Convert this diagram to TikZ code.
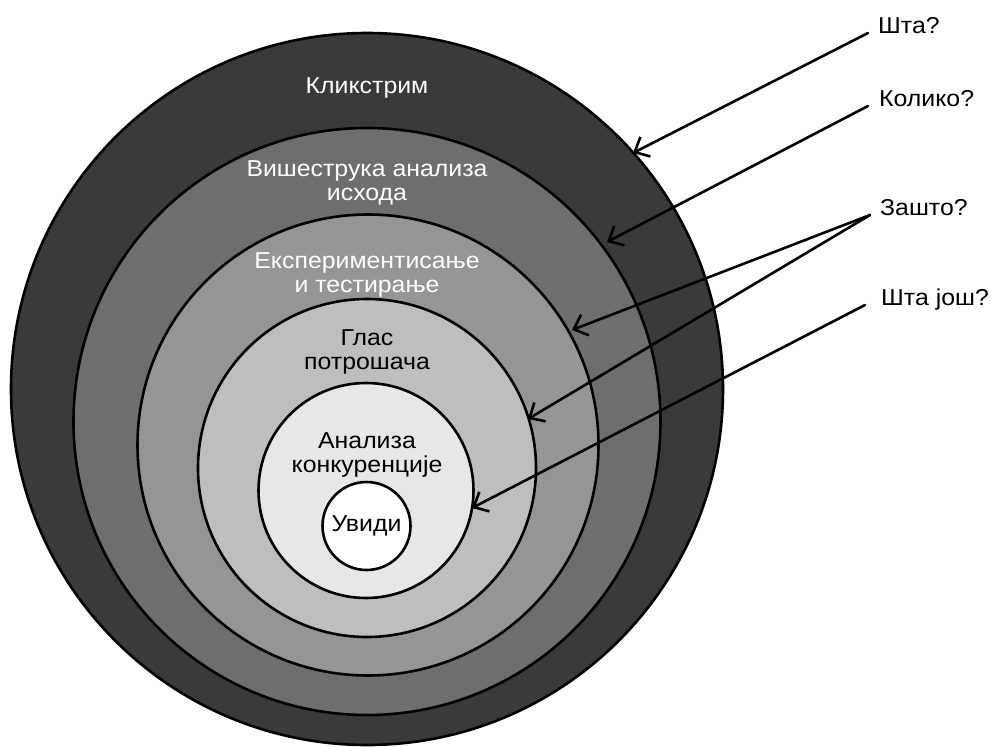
\documentclass[tikz,border=0pt]{standalone}
\usepackage{fontspec}
\setmainfont{Liberation Sans}
\usepackage{graphicx}
\usetikzlibrary{arrows.meta}
\definecolor{ringA}{HTML}{3A3A3C}
\definecolor{ringB}{HTML}{6D6E71}
\definecolor{ringC}{HTML}{939598}
\definecolor{ringD}{HTML}{BCBEC0}
\definecolor{ringE}{HTML}{E6E7E8}
\newcommand\tw[1]{\scalebox{1.08}[1]{\begin{tabular}[t]{@{}c@{}}#1\end{tabular}}}
\begin{document}
\begin{tikzpicture}[x=1pt,y=-1pt,
  ring/.style={circle, draw=black, line width=2.6pt, inner sep=0pt, minimum size=#1},
  lbl/.style={anchor=base, inner sep=0pt, font=\fontsize{23}{24.5}\selectfont},
  qlbl/.style={lbl, anchor=base west},
  arr/.style={line width=2.6pt, line cap=round, -{Straight Barb[length=12pt,width=22pt,line join=miter]}}]
\useasboundingbox (0,0) rectangle (991,747);
% rings
\node[ring=712pt, fill=ringA] (c1) at (367,389) {};
\node[ring=587pt, fill=ringB] (c2) at (367,421.5) {};
\node[ring=461pt, fill=ringC] (c3) at (368,445) {};
\node[ring=338pt, fill=ringD] (c4) at (367,468) {};
\node[ring=215pt, fill=ringE] (c5) at (366,490.5) {};
\node[ring=88pt, fill=white] (c6) at (366.5,526) {};
% ring labels
\node[lbl, text=white] (l1) at (367,93) {\tw{Кликстрим}};
\node[lbl, text=white] (l2) at (367,176) {\tw{Вишеструка анализа\\исхода}};
\node[lbl, text=white] (l3) at (367,268) {\tw{Експериментисање\\и тестирање}};
\node[lbl] (l4) at (367,345) {\tw{Глас\\потрошача}};
\node[lbl] (l5) at (367,448) {\tw{Анализа\\конкуренције}};
\node[lbl] (l6) at (366.5,531) {\tw{Увиди}};
% question labels
\node[qlbl] (q1) at (878,33) {\tw{Шта?}};
\node[qlbl] (q2) at (879,106) {\tw{Колико?}};
\node[qlbl] (q3) at (880,215) {\tw{Зашто?}};
\node[qlbl] (q4) at (881,305) {\tw{Шта још?}};
% arrow tips
\coordinate (t1) at (633,153);
\coordinate (t2) at (607,242);
\coordinate (t3) at (572,330);
\coordinate (t4) at (528,419);
\coordinate (t5) at (472,508);
% arrows
\draw[arr] ([xshift=-10pt]q1.base west) -- (t1);
\draw[arr] ([xshift=-11pt]q2.base west) -- (t2);
\draw[arr] ([xshift=-10pt]q3.base west) -- (t3);
\draw[arr] ([xshift=-10pt]q3.base west) -- (t4);
\draw[arr] ([xshift=-16pt]q4.base west) -- (t5);
\end{tikzpicture}
\end{document}
